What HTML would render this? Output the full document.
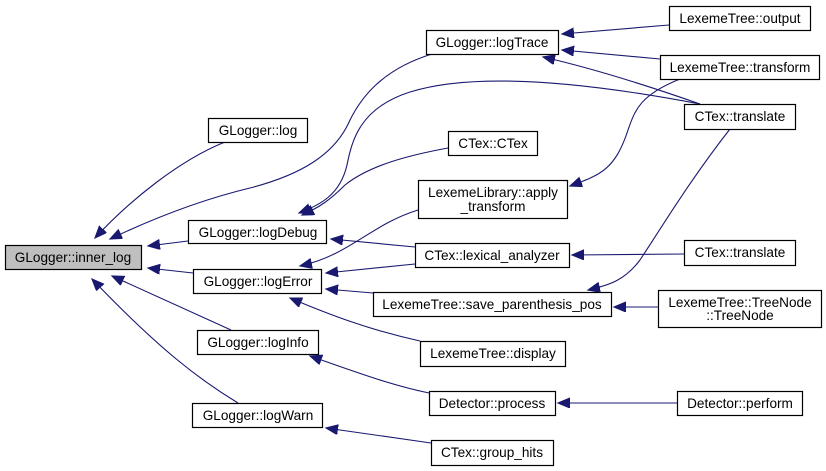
<!DOCTYPE html>
<html><head><meta charset="utf-8"><style>
html,body{margin:0;padding:0;background:#fff;}
svg{display:block;}
text{font-family:"Liberation Sans",sans-serif;font-size:13.6px;fill:#000;text-anchor:middle;}
rect{fill:#fff;stroke:#000;stroke-width:1.2;}
path{fill:none;stroke:#191970;stroke-width:1.1;}
</style></head><body>
<svg width="826" height="471" viewBox="0 0 826 471" xmlns="http://www.w3.org/2000/svg">
<defs>
<marker id="a" markerWidth="14" markerHeight="12" refX="12" refY="5" orient="auto" markerUnits="userSpaceOnUse">
<path d="M0,0 L12,5 L0,10 Z" style="fill:#191970;stroke:#191970"/>
</marker>
</defs>
<path d="M225,142 C180,160 130,200 95,238" marker-end="url(#a)"/>
<path d="M432,54 C380,70 360,100 350,120 C335,155 300,175 250,188 C200,200 150,220 110,239" marker-end="url(#a)"/>
<path d="M188,241 L148,246" marker-end="url(#a)"/>
<path d="M193,273 L148,268" marker-end="url(#a)"/>
<path d="M231,330 L112,276" marker-end="url(#a)"/>
<path d="M238,403 C200,380 160,350 92,279" marker-end="url(#a)"/>
<path d="M669,25 L562,34" marker-end="url(#a)"/>
<path d="M660,59 L562,50" marker-end="url(#a)"/>
<path d="M700,104 C660,90 600,70 543,57" marker-end="url(#a)"/>
<path d="M700,104 C600,85 480,70 410,92 C360,108 352,140 347,165 C340,195 320,205 299,213" marker-end="url(#a)"/>
<path d="M448,148 C410,155 370,165 345,185 C330,200 320,207 302,215" marker-end="url(#a)"/>
<path d="M415,247 L331,239" marker-end="url(#a)"/>
<path d="M418,210 C370,225 350,255 300,266" marker-end="url(#a)"/>
<path d="M415,264 L326,273" marker-end="url(#a)"/>
<path d="M373,293 L326,289" marker-end="url(#a)"/>
<path d="M420,341 C370,330 330,315 290,298" marker-end="url(#a)"/>
<path d="M680,79 C640,95 635,110 628,130 C615,170 600,175 570,186" marker-end="url(#a)"/>
<path d="M684,254 L572,255" marker-end="url(#a)"/>
<path d="M730,129 C690,180 660,230 640,260 C625,280 610,285 588,290" marker-end="url(#a)"/>
<path d="M658,307 L614,307" marker-end="url(#a)"/>
<path d="M429,393 C390,385 350,370 310,356" marker-end="url(#a)"/>
<path d="M677,403 L558,403" marker-end="url(#a)"/>
<path d="M431,443 L326,428" marker-end="url(#a)"/>
<rect x="5.5" y="245.5" width="136" height="24" style="fill:#bfbfbf"/><text x="73" y="262">GLogger::inner_log</text>
<rect x="208.5" y="118.5" width="99" height="24"/><text x="258" y="135">GLogger::log</text>
<rect x="188.5" y="220.5" width="138" height="23"/><text x="258" y="237">GLogger::logDebug</text>
<rect x="193.5" y="269.5" width="128" height="24"/><text x="258" y="286">GLogger::logError</text>
<rect x="197.5" y="330.5" width="121" height="24"/><text x="258" y="347">GLogger::logInfo</text>
<rect x="192.5" y="403.5" width="130" height="24"/><text x="258" y="420">GLogger::logWarn</text>
<rect x="426.5" y="30.5" width="132" height="24"/><text x="492" y="47">GLogger::logTrace</text>
<rect x="669.5" y="6.5" width="141" height="24"/><text x="740" y="23">LexemeTree::output</text>
<rect x="660.5" y="55.5" width="159" height="24"/><text x="740" y="72">LexemeTree::transform</text>
<rect x="684.5" y="104.5" width="111" height="25"/><text x="740" y="121">CTex::translate</text>
<rect x="448.5" y="131.5" width="89" height="24"/><text x="493" y="148">CTex::CTex</text>
<rect x="418.5" y="180.5" width="149" height="38"/><text x="493" y="197">LexemeLibrary::apply</text><text x="493" y="211">_transform</text>
<rect x="415.5" y="243.5" width="154" height="24"/><text x="492" y="260">CTex::lexical_analyzer</text>
<rect x="684.5" y="240.5" width="111" height="25"/><text x="740" y="257">CTex::translate</text>
<rect x="373.5" y="292.5" width="238" height="24"/><text x="492" y="309">LexemeTree::save_parenthesis_pos</text>
<rect x="658.5" y="290.5" width="163" height="37"/><text x="740" y="307">LexemeTree::TreeNode</text><text x="740" y="320">::TreeNode</text>
<rect x="420.5" y="341.5" width="145" height="25"/><text x="493" y="358">LexemeTree::display</text>
<rect x="429.5" y="391.5" width="126" height="24"/><text x="492" y="408">Detector::process</text>
<rect x="677.5" y="391.5" width="125" height="24"/><text x="740" y="408">Detector::perform</text>
<rect x="431.5" y="440.5" width="122" height="25"/><text x="492" y="457">CTex::group_hits</text>
</svg>
</body></html>
